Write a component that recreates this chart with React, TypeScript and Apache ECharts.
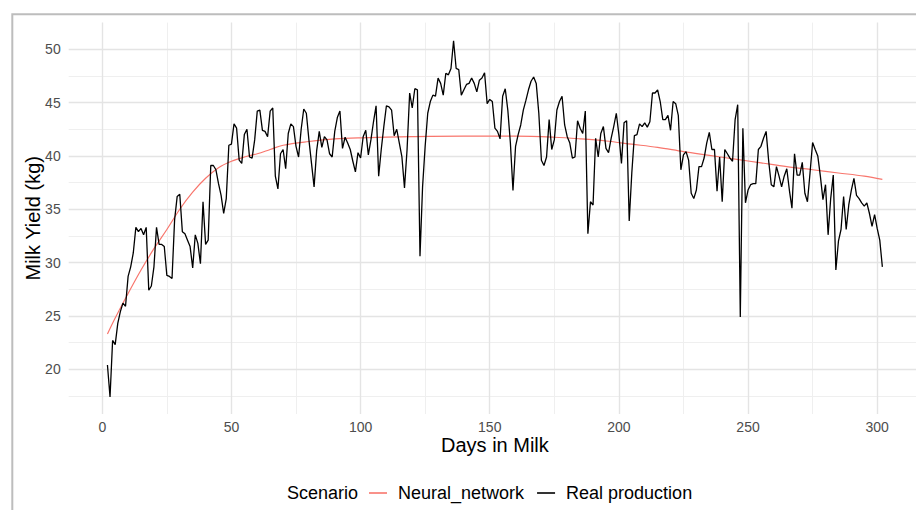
import React, { useEffect, useRef } from "react";
import * as echarts from "echarts";

// Real production: daily milk yield (kg), days in milk 2..302
const FIRST_DAY = 2;
const realProduction = [
  20.4, 17.4, 22.7, 22.3, 24.3, 25.4, 26.2, 25.9, 28.7, 29.6,
  30.9, 33.3, 32.9, 33.2, 32.6, 33.3, 27.4, 27.8, 29.6, 33.3,
  31.7, 31.7, 31.5, 28.8, 28.7, 28.5, 34.0, 36.2, 36.4, 32.9,
  32.7, 32.1, 31.5, 29.5, 32.6, 31.8, 29.9, 35.7, 31.7, 32.1,
  39.1, 39.1, 38.7, 37.4, 36.3, 34.6, 36.0, 41.0, 41.1, 43.0,
  42.6, 39.6, 39.3, 42.0, 42.5, 39.9, 39.8, 41.5, 44.2, 44.3,
  42.4, 42.3, 41.8, 44.2, 44.5, 38.1, 36.9, 40.2, 40.6, 38.8,
  42.1, 43.0, 42.75, 40.9, 39.9, 42.5, 44.4, 44.0, 41.5, 39.3,
  37.1, 40.5, 42.3, 40.8, 41.8, 41.5, 40.2, 39.9, 42.3, 43.6,
  44.2, 40.7, 41.75, 41.2, 40.6, 39.5, 38.5, 40.3, 39.8, 41.8,
  42.4, 40.1, 41.5, 43.2, 44.7, 38.1, 40.6, 42.75, 44.7, 44.6,
  44.3, 41.9, 42.5, 41.2, 39.9, 37.0, 40.6, 45.9, 44.5, 46.3,
  46.2, 30.6, 37.1, 40.9, 44.0, 45.1, 45.7, 45.6, 47.3, 46.8,
  45.7, 47.75, 47.6, 48.2, 50.8, 48.2, 48.1, 45.7, 46.2, 46.7,
  46.8, 47.3, 46.8, 46.0, 47.1, 47.3, 47.8, 44.9, 45.3, 45.1,
  42.6, 42.3, 41.6, 45.6, 46.3, 44.3, 41.2, 36.75, 40.9, 42.0,
  42.9, 44.3, 45.2, 46.2, 47.0, 47.4, 46.8, 44.0, 39.6, 39.1,
  39.9, 43.4, 40.6, 41.5, 44.3, 45.1, 45.6, 42.9, 41.8, 41.2,
  39.8, 39.9, 43.3, 42.6, 42.1, 44.2, 32.7, 35.7, 35.4, 41.65,
  39.9, 42.1, 42.75, 40.7, 40.3, 41.65, 42.75, 44.0, 42.0, 39.3,
  43.1, 43.3, 33.9, 38.4, 41.9, 42.0, 43.0, 42.75, 43.1, 42.7,
  43.2, 45.9, 45.9, 46.2, 45.1, 43.4, 43.4, 43.8, 42.4, 45.1,
  44.9, 43.8, 38.7, 40.1, 40.4, 39.6, 36.5, 36.0, 36.8, 39.0,
  39.0, 39.8, 41.2, 42.2, 40.6, 40.6, 36.7, 39.9, 35.7, 40.6,
  40.2, 39.8, 39.5, 43.4, 44.8, 24.9, 42.6, 35.6, 36.8, 37.3,
  37.4, 37.4, 40.6, 40.9, 41.65, 42.3, 39.5, 37.3, 37.1, 39.0,
  38.1, 37.1, 38.1, 38.8, 36.8, 35.1, 40.2, 38.2, 38.2, 39.4,
  36.5, 35.7, 38.4, 41.25, 40.6, 40.0, 38.1, 35.9, 37.3, 32.6,
  36.0, 38.2, 29.3, 32.0, 33.1, 36.2, 33.1, 35.4, 36.8, 37.9,
  36.3, 36.0, 35.6, 35.3, 35.6, 34.6, 33.4, 34.5, 33.2, 32.1, 29.6,
];

// Neural network fitted curve
const nnDays = [2, 5, 10, 15, 20, 25, 30, 35, 40, 45, 50, 55, 60, 65, 70, 80, 90, 100, 120, 140, 160, 175, 185, 195, 205, 215, 225, 235, 245, 255, 265, 275, 285, 295, 302];
const nnValues = [23.3, 24.8, 27.1, 29.3, 31.3, 33.1, 35.0, 36.6, 37.9, 38.9, 39.5, 39.9, 40.2, 40.6, 41.0, 41.35, 41.6, 41.7, 41.8, 41.85, 41.85, 41.75, 41.6, 41.4, 41.1, 40.8, 40.4, 40.05, 39.7, 39.35, 39.0, 38.7, 38.4, 38.1, 37.8];

const xMajor = [0, 50, 100, 150, 200, 250, 300];
const xMinor = [25, 75, 125, 175, 225, 275];
const yMajor = [20, 25, 30, 35, 40, 45, 50];
const yMinor = [17.5, 22.5, 27.5, 32.5, 37.5, 42.5, 47.5];

const seriesNames = ["Neural_network", "Real production"];
const FONT = "'Liberation Sans', Arial, Helvetica, sans-serif";

export default function App() {
  const ref = useRef<HTMLDivElement>(null);

  useEffect(() => {
    if (!ref.current) return;
    const chart = echarts.init(ref.current, undefined, { renderer: "svg" });

    const realData = realProduction.map((v, i) => [FIRST_DAY + i, v]);
    const nnData = nnDays.map((d, i) => [d, nnValues[i]]);

    const majorStyle = { color: "#e4e4e4", width: 1.4, type: "solid" };
    const minorStyle = { color: "#efefef", width: 1, type: "solid" };
    const gridLines = [
      ...xMinor.map((v) => ({ xAxis: v, lineStyle: minorStyle })),
      ...yMinor.map((v) => ({ yAxis: v, lineStyle: minorStyle })),
      ...xMajor.map((v) => ({ xAxis: v, lineStyle: majorStyle })),
      ...yMajor.map((v) => ({ yAxis: v, lineStyle: majorStyle })),
    ];

    chart.setOption({
      animation: false,
      backgroundColor: "#ffffff",
      textStyle: { fontFamily: FONT },
      grid: { left: 68.7, top: 22.6, width: 852.4, height: 391.4, containLabel: false },
      xAxis: {
        type: "value",
        min: -13,
        max: 317,
        axisLine: { show: false },
        axisTick: { show: false },
        splitLine: { show: false },
        axisLabel: { customValues: xMajor, color: "#4d4d4d", fontSize: 14, margin: 6, fontFamily: FONT },
        name: "Days in Milk",
        nameLocation: "middle",
        nameGap: 21,
        nameMoveOverlap: false,
        nameTextStyle: { fontSize: 20, color: "#000", fontFamily: FONT },
      },
      yAxis: {
        type: "value",
        min: 15.8,
        max: 52.5,
        axisLine: { show: false },
        axisTick: { show: false },
        splitLine: { show: false },
        axisLabel: { customValues: yMajor, color: "#4d4d4d", fontSize: 14, margin: 8, fontFamily: FONT },
        name: "Milk Yield (kg)",
        nameLocation: "middle",
        nameGap: 26,
        nameMoveOverlap: false,
        nameRotate: 90,
        nameTextStyle: { fontSize: 20, color: "#000", fontFamily: FONT },
      },
      legend: {
        left: 369,
        top: 484,
        padding: 0,
        icon: "rect",
        itemWidth: 18,
        itemHeight: 1.6,
        itemGap: 13,
        data: seriesNames,
        textStyle: { fontSize: 18, color: "#000", fontFamily: FONT, padding: [0, 0, 0, 6] },
        selectedMode: false,
      },
      graphic: [
        {
          type: "polyline",
          shape: { points: [[12.3, 510], [12.3, 14.3], [930, 14.3]] },
          style: { stroke: "#bdbdbd", lineWidth: 2, fill: "none" },
          silent: true,
        },
        {
          type: "text",
          left: 287,
          top: 484,
          style: { text: "Scenario", fontSize: 18, fill: "#000", fontFamily: FONT },
          silent: true,
        },
      ],
      series: [
        {
          name: seriesNames[0],
          type: "line",
          data: nnData,
          smooth: 0.35,
          showSymbol: false,
          color: "#F8766D",
          lineStyle: { color: "#F8766D", width: 1.2 },
          z: 3,
          markLine: {
            silent: true,
            symbol: ["none", "none"],
            label: { show: false },
            emphasis: { disabled: true },
            animation: false,
            z: 1,
            data: gridLines,
          },
        },
        {
          name: seriesNames[1],
          type: "line",
          data: realData,
          showSymbol: false,
          color: "#000000",
          lineStyle: { color: "#000000", width: 1.3 },
          z: 4,
        },
      ],
    });

    return () => chart.dispose();
  }, []);

  return (
    <div style={{ position: "fixed", left: 0, top: 0, width: 916, height: 510, overflow: "hidden", background: "#fff" }}>
      <div ref={ref} style={{ width: 930, height: 510 }} />
    </div>
  );
}
